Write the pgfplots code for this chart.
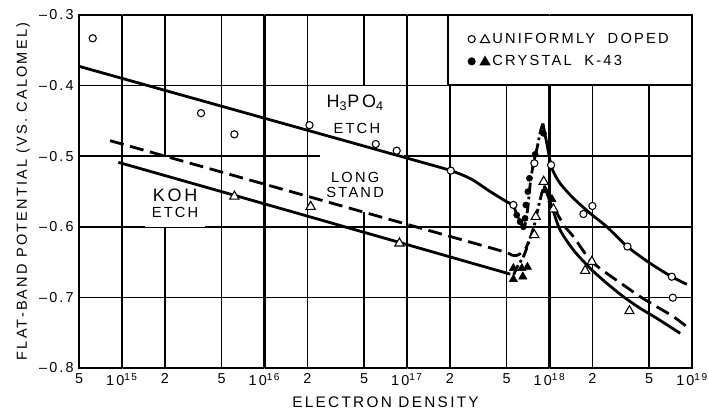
\documentclass[border=0pt]{standalone}
\usepackage{fontspec}
\setmainfont{Liberation Sans}[LetterSpace=15]
\usepackage{pgfplots}
\pgfplotsset{compat=1.18}

\pgfplotsset{
  curve/.style={black, line width=2.1pt, no marks, smooth, tension=0.45},
  dashdot/.style={curve, dash pattern=on 8pt off 2.5pt on 2pt off 2.5pt},
  dashedc/.style={curve, dash pattern=on 10.5pt off 5pt},
  ocirc/.style={only marks, mark=*, mark size=2.7pt, mark options={fill=white, draw=black, line width=0.8pt}},
  otri/.style={only marks, mark=triangle*, mark size=4pt, mark options={fill=white, draw=black, line width=0.8pt}},
  fcirc/.style={only marks, mark=*, mark size=2.3pt, mark options={fill=black, draw=black}},
  ftri/.style={only marks, mark=triangle*, mark size=3.6pt, mark options={fill=black, draw=black}},
}

\begin{document}
\begin{tikzpicture}
\begin{axis}[
  name=ax,
  scale only axis, width=459.75pt, height=264.75pt,
  xmode=log, xmin=5e14, xmax=1e19, ymin=-0.8, ymax=-0.3,
  xtick={5e14,1e15,2e15,5e15,1e16,2e16,5e16,1e17,2e17,5e17,1e18,2e18,5e18,1e19},
  xticklabels={5,10\textsuperscript{15},2,5,10\textsuperscript{16},2,5,10\textsuperscript{17},2,5,10\textsuperscript{18},2,5,10\textsuperscript{19}},
  ytick={-0.8,-0.7,-0.6,-0.5,-0.4,-0.3},
  yticklabels={\textendash0.8,\textendash0.7,\textendash0.6,\textendash0.5,\textendash0.4,\textendash0.3},
  extra x ticks={1e15,1e16,1e17,1e18},
  extra x tick labels={},
  extra x tick style={major grid style={line width=1.8pt, black}},
  grid=major,
  major grid style={line width=1.1pt, black},
  tick align=outside,
  major tick length=0.5pt,
  axis line style={line width=1.6pt},
  tick label style={font=\fontsize{10.8}{12}\selectfont},
  xlabel={ELECTRON DENSITY},
  ylabel={FLAT-BAND POTENTIAL (VS. CALOMEL)},
  xlabel style={font=\fontsize{11.5}{12}\selectfont},
  ylabel style={font=\fontsize{10.9}{12}\selectfont},
  legend style={at={(1,1)}, anchor=north east, draw=black, line width=1pt, fill=white,
    inner xsep=15pt, inner ysep=11pt, row sep=3.5pt, font=\fontsize{11}{12}\selectfont,
    cells={anchor=west}},
  legend cell align=left,
]
% white label backgrounds (hide grid behind labels)
\node[fill=white, minimum width=63pt, minimum height=94pt, inner sep=0pt] at (axis cs:4.84e16,-0.4898) {};
\node[fill=white, minimum width=45pt, minimum height=52pt, inner sep=0pt] at (axis cs:2.36e15,-0.5507) {};

% legend entries
\addlegendimage{legend image code/.code={
  \draw[line width=0.8pt, fill=white] plot[only marks, mark=*, mark size=2.7pt, mark options={fill=white}] coordinates {(3pt,0pt)};
  \draw[line width=0.8pt, fill=white] plot[only marks, mark=triangle*, mark size=4pt, mark options={fill=white}] coordinates {(13pt,-0.6pt)};
}}
\addlegendentry{UNIFORMLY\ \ DOPED}
\addlegendimage{legend image code/.code={
  \fill plot[only marks, mark=*, mark size=2.5pt] coordinates {(3pt,0pt)};
  \fill plot[only marks, mark=triangle*, mark size=4pt] coordinates {(13pt,-0.6pt)};
}}
\addlegendentry{CRYSTAL\ \ K-43}

% H3PO4 etch
\addplot[curve] coordinates {(5e14,-0.3727) (1e16,-0.4462) (1e17,-0.5027) (2e17,-0.520) (2.8e17,-0.532) (3.83e17,-0.550) (5e17,-0.5644) (5.58e17,-0.569)};
\addplot[dashdot] coordinates {(5.58e17,-0.569) (5.92e17,-0.5833) (6.43e17,-0.5975) (6.64e17,-0.6010) (6.85e17,-0.5904) (7.08e17,-0.5691) (7.31e17,-0.5408) (7.67e17,-0.5125) (8.18e17,-0.4884) (8.59e17,-0.4671) (8.98e17,-0.4534)};
\addplot[curve] coordinates {(8.98e17,-0.4534) (9.57e17,-0.4817) (1.038e18,-0.5166) (1.186e18,-0.5384) (1.472e18,-0.5596) (1.928e18,-0.5809) (2.523e18,-0.5999) (3.524e18,-0.6282) (5.08e18,-0.6517) (7.21e18,-0.6707) (9.2e18,-0.6815)};

% long stand
\addplot[dashedc] coordinates {(8.26e14,-0.478) (1e16,-0.5396) (1e17,-0.5965) (4.5e17,-0.6337) (5.43e17,-0.640) (5.89e17,-0.6405) (6.56e17,-0.635) (6.92e17,-0.628) (7.11e17,-0.621)};
\addplot[dashedc] coordinates {(1.07e18,-0.574) (1.12e18,-0.580) (1.285e18,-0.5999) (1.472e18,-0.614) (1.928e18,-0.647) (2.523e18,-0.6659) (3.30e18,-0.6824) (4.33e18,-0.699) (5.66e18,-0.7132) (7.41e18,-0.7273) (9.2e18,-0.7415)};

% KOH etch
\addplot[curve] coordinates {(9.44e14,-0.5087) (1e16,-0.5675) (5.3e17,-0.667)};
\addplot[dashdot] coordinates {(5.6e17,-0.668) (6.0e17,-0.655) (6.56e17,-0.6423) (7.11e17,-0.6234) (7.83e17,-0.5975) (8.36e17,-0.5715) (8.83e17,-0.5526) (9.2e17,-0.5422)};
\addplot[curve] coordinates {(9.2e17,-0.5422) (1.04e18,-0.572) (1.186e18,-0.6045) (1.472e18,-0.6329) (1.928e18,-0.6588) (2.523e18,-0.680) (3.30e18,-0.699) (4.33e18,-0.7155) (5.66e18,-0.7296) (8.26e18,-0.7509)};

% data points
\addplot[ocirc] coordinates {(6.24e14,-0.333) (3.59e15,-0.439) (6.15e15,-0.469) (2.07e16,-0.456) (6.04e16,-0.4827) (8.47e16,-0.4922) (2.03e17,-0.5205) (5.58e17,-0.569) (7.83e17,-0.510) (1.026e18,-0.5125) (1.73e18,-0.5819) (2.0e18,-0.5705) (3.52e18,-0.628) (7.21e18,-0.6707) (7.33e18,-0.7004)};
\addplot[otri] coordinates {(6.15e15,-0.557) (2.11e16,-0.5715) (8.85e16,-0.6234) (7.83e17,-0.6116) (8.01e17,-0.5857) (9.1e17,-0.536) (1.065e18,-0.575) (1.78e18,-0.6622) (1.98e18,-0.6494) (3.64e18,-0.7193)};
\addplot[fcirc] coordinates {(9.06e17,-0.4676) (7.93e17,-0.4974) (7.23e17,-0.5313) (7.05e17,-0.5502) (6.82e17,-0.5691) (5.89e17,-0.5833) (6.22e17,-0.5928) (6.56e17,-0.5999) (6.74e17,-0.588)};
\addplot[ftri] coordinates {(5.58e17,-0.6588) (6.4e17,-0.6588) (5.58e17,-0.6744) (6.5e17,-0.6707) (7.0e17,-0.657) (9.3e17,-0.548) (1.04e18,-0.561)};

% labels
\node[font=\fontsize{13.5}{14}\selectfont] at (axis cs:4.33e16,-0.4246) {H\textsubscript{3}PO\textsubscript{4}};
\node[font=\fontsize{11}{12}\selectfont] at (axis cs:4.45e16,-0.460) {ETCH};
\node[font=\fontsize{11}{12}\selectfont] at (axis cs:4.33e16,-0.5295) {LONG};
\node[font=\fontsize{11}{12}\selectfont] at (axis cs:4.33e16,-0.5507) {STAND};
\node[font=\fontsize{13.5}{14}\selectfont] at (axis cs:2.36e15,-0.555) {KOH};
\node[font=\fontsize{11}{12}\selectfont] at (axis cs:2.36e15,-0.580) {ETCH};
\end{axis}
\pgfresetboundingbox
\path[use as bounding box] ([xshift=-59.25pt,yshift=-32.25pt]ax.south west) rectangle ([xshift=12.75pt,yshift=11.25pt]ax.north east);
\end{tikzpicture}
\end{document}
